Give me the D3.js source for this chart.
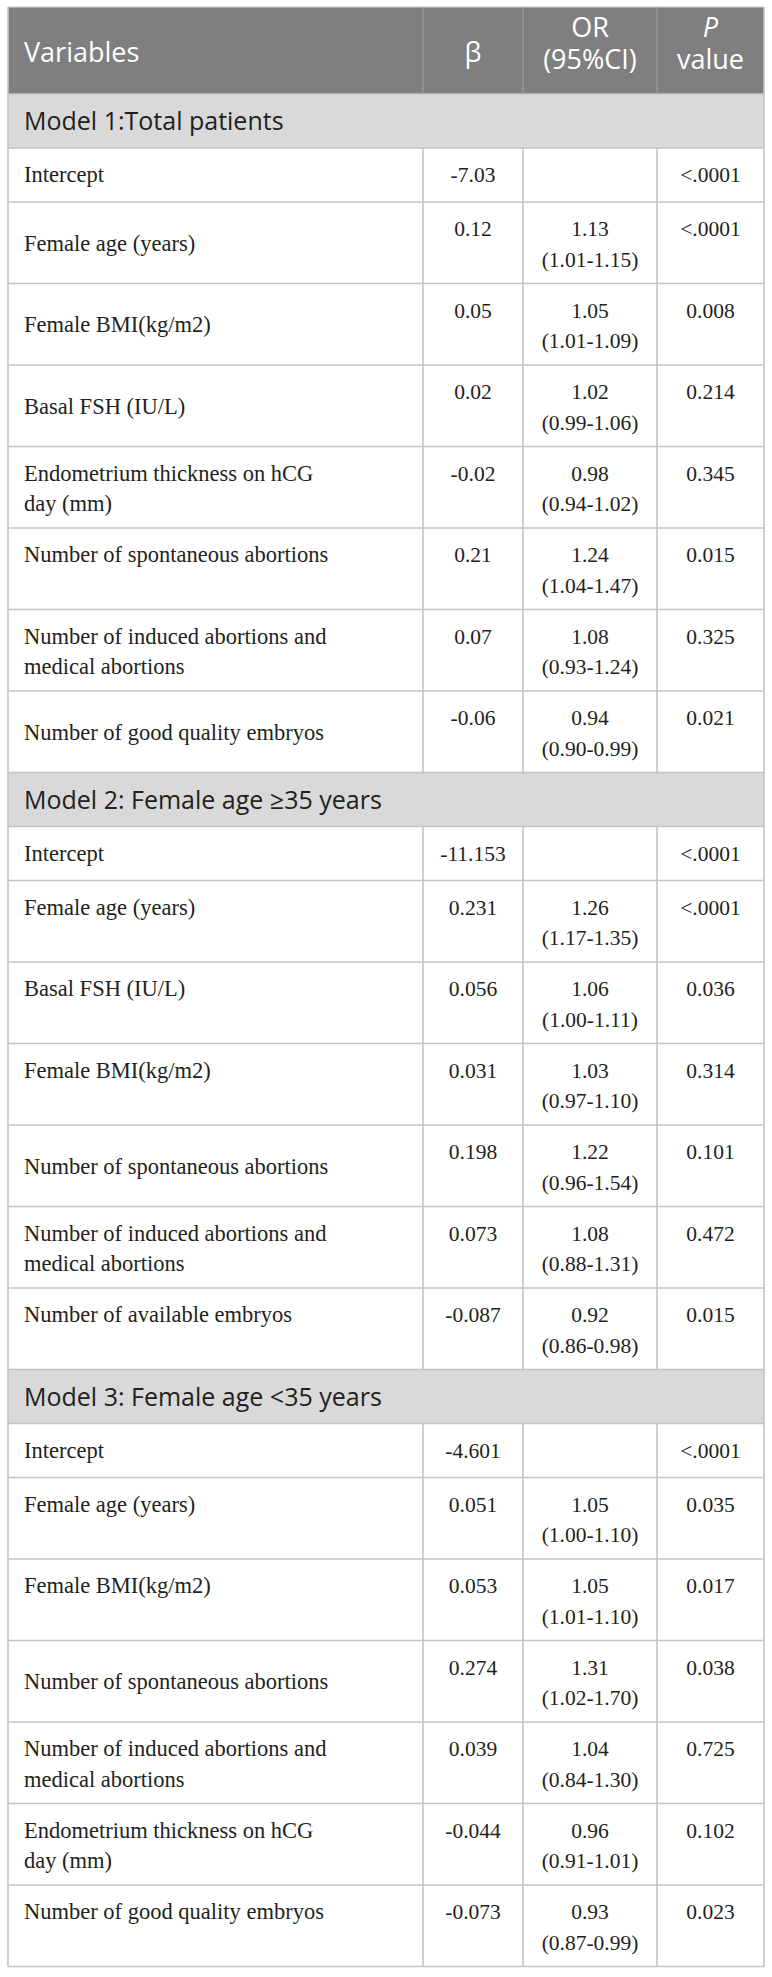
<!DOCTYPE html>
<html>
<head>
<meta charset="utf-8">
<script src="https://cdn.jsdelivr.net/npm/d3@7"></script>
<style>
  html, body { margin: 0; padding: 0; background: #ffffff; }
  svg { display: block; }
</style>
</head>
<body>
<div id="chart"></div>
<script>
// ---------- DATA ----------
const headerLabels = ["Variables", "β", "OR\n(95%CI)", "P\nvalue"];
const sectionTitles = [
  "Model 1:Total patients",
  "Model 2: Female age \u226535 years",
  "Model 3: Female age <35 years"
];

const m1Variables = [
  "Intercept",
  "Female age (years)",
  "Female BMI(kg/m2)",
  "Basal FSH (IU/L)",
  "Endometrium thickness on hCG\nday (mm)",
  "Number of spontaneous abortions",
  "Number of induced abortions and\nmedical abortions",
  "Number of good quality embryos"
];
const m1Beta = ["-7.03", "0.12", "0.05", "0.02", "-0.02", "0.21", "0.07", "-0.06"];
const m1OR   = ["", "1.13", "1.05", "1.02", "0.98", "1.24", "1.08", "0.94"];
const m1CI   = ["", "(1.01-1.15)", "(1.01-1.09)", "(0.99-1.06)", "(0.94-1.02)", "(1.04-1.47)", "(0.93-1.24)", "(0.90-0.99)"];
const m1P    = ["<.0001", "<.0001", "0.008", "0.214", "0.345", "0.015", "0.325", "0.021"];

const m2Variables = [
  "Intercept",
  "Female age (years)",
  "Basal FSH (IU/L)",
  "Female BMI(kg/m2)",
  "Number of spontaneous abortions",
  "Number of induced abortions and\nmedical abortions",
  "Number of available embryos"
];
const m2Beta = ["-11.153", "0.231", "0.056", "0.031", "0.198", "0.073", "-0.087"];
const m2OR   = ["", "1.26", "1.06", "1.03", "1.22", "1.08", "0.92"];
const m2CI   = ["", "(1.17-1.35)", "(1.00-1.11)", "(0.97-1.10)", "(0.96-1.54)", "(0.88-1.31)", "(0.86-0.98)"];
const m2P    = ["<.0001", "<.0001", "0.036", "0.314", "0.101", "0.472", "0.015"];

const m3Variables = [
  "Intercept",
  "Female age (years)",
  "Female BMI(kg/m2)",
  "Number of spontaneous abortions",
  "Number of induced abortions and\nmedical abortions",
  "Endometrium thickness on hCG\nday (mm)",
  "Number of good quality embryos"
];
const m3Beta = ["-4.601", "0.051", "0.053", "0.274", "0.039", "-0.044", "-0.073"];
const m3OR   = ["", "1.05", "1.05", "1.31", "1.04", "0.96", "0.93"];
const m3CI   = ["", "(1.00-1.10)", "(1.01-1.10)", "(1.02-1.70)", "(0.84-1.30)", "(0.91-1.01)", "(0.87-0.99)"];
const m3P    = ["<.0001", "0.035", "0.017", "0.038", "0.725", "0.102", "0.023"];

// vertical placement of the variable label in the original (t = top line, m = middle)
const m1LabelPos = ["m", "m", "m", "m", "t", "t", "t", "m"];
const m2LabelPos = ["m", "t", "t", "t", "m", "t", "t"];
const m3LabelPos = ["m", "t", "t", "m", "t", "t", "t"];

// ---------- LAYOUT ----------
const W = 772, H = 1977;
const models = [
  {title: sectionTitles[0], vars: m1Variables, beta: m1Beta, or: m1OR, ci: m1CI, p: m1P, pos: m1LabelPos},
  {title: sectionTitles[1], vars: m2Variables, beta: m2Beta, or: m2OR, ci: m2CI, p: m2P, pos: m2LabelPos},
  {title: sectionTitles[2], vars: m3Variables, beta: m3Beta, or: m3OR, ci: m3CI, p: m3P, pos: m3LabelPos}
];

const HEADER_H = 87, SECTION_H = 54, SINGLE_H = 54, DOUBLE_H = 81.5, TOP = 7;

const rows = [{type: "header", h: HEADER_H}];
models.forEach(m => {
  rows.push({type: "section", text: m.title, h: SECTION_H});
  m.vars.forEach((v, i) => {
    const two = m.or[i] !== "" || v.includes("\n");
    rows.push({
      type: "data", label: v.split("\n"), pos: m.pos[i],
      beta: m.beta[i], or: m.or[i], ci: m.ci[i], p: m.p[i],
      h: two ? DOUBLE_H : SINGLE_H, two
    });
  });
});
const tops = [TOP];
rows.forEach((r, i) => tops.push(tops[i] + r.h));
rows.forEach((r, i) => { r.id = i; r.top = tops[i]; });

// x scale: column edges
const colKeys = ["var", "beta", "or", "p", "end"];
const xEdge = d3.scaleOrdinal().domain(colKeys).range([8, 423, 523, 657, 764]);
const xCenter = k => (xEdge(k) + xEdge(colKeys[colKeys.indexOf(k) + 1])) / 2;

// y scale: row index -> top
const yTop = d3.scaleOrdinal().domain(rows.map(r => r.id)).range(rows.map(r => r.top));
const tableBottom = tops[tops.length - 1];

const svg = d3.select("#chart").append("svg").attr("width", W).attr("height", H);

const SERIF = "Liberation Serif";
const SANS = "Open Sans";
const TXT = "#231f20";
const LINE = "#c4c4c4";

// backgrounds
svg.selectAll("rect.bg")
  .data(rows.filter(r => r.type !== "data"))
  .join("rect").attr("class", "bg")
  .attr("x", xEdge("var")).attr("width", xEdge("end") - xEdge("var"))
  .attr("y", r => yTop(r.id)).attr("height", r => r.h)
  .attr("fill", r => r.type === "header" ? "#7f7f7f" : "#d9d9d9");

// horizontal rules
svg.selectAll("line.h")
  .data(tops)
  .join("line").attr("class", "h")
  .attr("x1", xEdge("var")).attr("x2", xEdge("end"))
  .attr("y1", d => d).attr("y2", d => d)
  .attr("stroke", (d, i) => i === 0 ? "#d0d0d0" : LINE)
  .attr("stroke-width", (d, i) => i === 0 ? 1 : 1.6);

// vertical rules in data rows
const dataRows = rows.filter(r => r.type === "data");
["beta", "or", "p"].forEach(k => {
  svg.append("g").selectAll("line")
    .data(dataRows).join("line")
    .attr("x1", xEdge(k)).attr("x2", xEdge(k))
    .attr("y1", r => yTop(r.id)).attr("y2", r => yTop(r.id) + r.h)
    .attr("stroke", LINE).attr("stroke-width", 1.6);
  svg.append("line")
    .attr("x1", xEdge(k)).attr("x2", xEdge(k))
    .attr("y1", yTop(0)).attr("y2", yTop(0) + HEADER_H)
    .attr("stroke", "#9c9c9c").attr("stroke-width", 1.2);
});
// outer borders
["var", "end"].forEach(k => {
  svg.append("line")
    .attr("x1", xEdge(k)).attr("x2", xEdge(k))
    .attr("y1", TOP).attr("y2", tableBottom)
    .attr("stroke", LINE).attr("stroke-width", 1.6);
});

// header text
const hdr = svg.append("g").attr("font-family", SANS).attr("fill", "#ffffff").attr("font-size", 27);
const hTop = yTop(0);
hdr.append("text").attr("x", 24).attr("y", hTop + 55).text(headerLabels[0]);
hdr.append("text").attr("x", xCenter("beta")).attr("y", hTop + 55).attr("text-anchor", "middle").text(headerLabels[1]);
headerLabels[2].split("\n").forEach((t, i) => {
  hdr.append("text").attr("x", xCenter("or")).attr("y", hTop + 30 + i * 32)
    .attr("text-anchor", "middle").text(t);
});
headerLabels[3].split("\n").forEach((t, i) => {
  hdr.append("text").attr("x", xCenter("p")).attr("y", hTop + 30 + i * 32)
    .attr("text-anchor", "middle").attr("font-style", i === 0 ? "italic" : "normal").text(t);
});

// section titles
svg.selectAll("text.sec")
  .data(rows.filter(r => r.type === "section"))
  .join("text").attr("class", "sec")
  .attr("x", 24).attr("y", r => yTop(r.id) + 36)
  .attr("font-family", SANS).attr("font-size", 25).attr("fill", TXT)
  .text(r => r.text);

// data text
const L1 = 34, L2 = 64.5;
const g = svg.append("g").attr("font-family", SERIF).attr("fill", TXT);
dataRows.forEach(r => {
  const t0 = yTop(r.id);
  r.label.forEach((line, i) => {
    let y;
    if (!r.two) y = t0 + L1;
    else if (r.label.length === 2) y = t0 + (i === 0 ? L1 : L2);
    else y = r.pos === "m" ? t0 + r.h / 2 + 8 : t0 + L1;
    g.append("text").attr("x", 24).attr("y", y).attr("font-size", 22.5).text(line);
  });
  const num = (x, y, t) => g.append("text").attr("x", x).attr("y", y)
    .attr("text-anchor", "middle").attr("font-size", 21.5).text(t);
  num(xCenter("beta"), t0 + L1, r.beta);
  if (r.or) {
    num(xCenter("or"), t0 + L1, r.or);
    num(xCenter("or"), t0 + L2, r.ci);
  }
  num(xCenter("p"), t0 + L1, r.p);
});
</script>
</body>
</html>
